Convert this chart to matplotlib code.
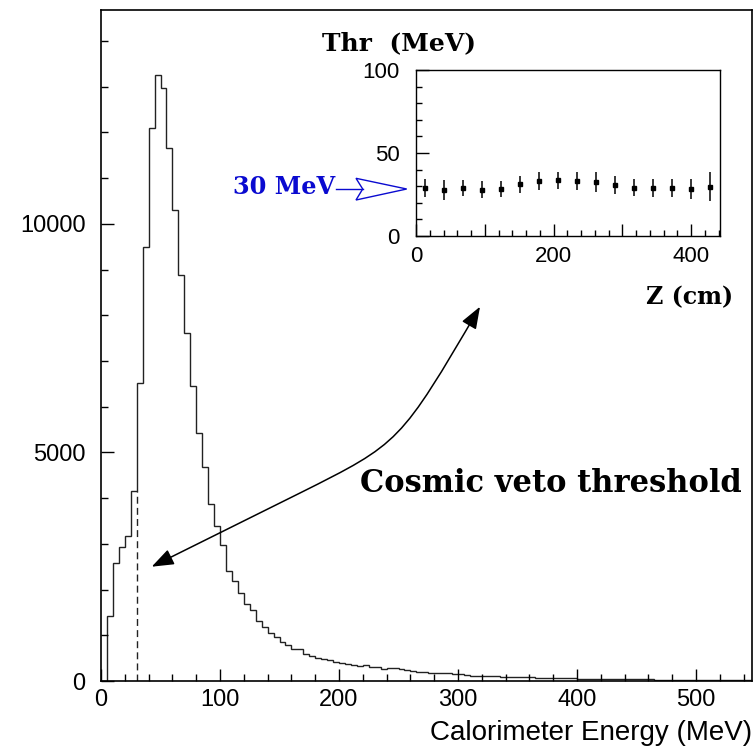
import numpy as np
import matplotlib
matplotlib.use("Agg")
import matplotlib.pyplot as plt
from matplotlib.path import Path
from matplotlib.patches import FancyArrowPatch, Polygon
from matplotlib.ticker import MultipleLocator, FuncFormatter
from matplotlib.lines import Line2D

# ---------------- data ----------------
bin_width = 5.0
energy_counts = [
    0, 1420, 2575, 2925, 3170, 4165, 6515, 9490, 12090, 13260,
    12970, 11650, 10310, 8890, 7620, 6455, 5435, 4675, 3875, 3390,
    2975, 2415, 2190, 1935, 1690, 1560, 1320, 1185, 1057, 955,
    860, 790, 690, 690, 590, 547, 497, 481, 460, 416,
    400, 365, 350, 320, 350, 306, 300, 270, 291, 291,
    263, 240, 225, 200, 195, 185, 170, 168, 165, 160,
    146, 128, 120, 110, 108, 105, 100, 95, 92, 90,
    85, 80, 78, 75, 72, 66, 64, 62, 60, 58,
    52, 50, 48, 46, 44, 42, 40, 40, 38, 36,
    35, 34, 33, 32, 30, 30, 28, 27, 26, 25,
    24, 23, 22, 21, 20, 19, 18, 18, 17, 16,
]
threshold_mev = 30.0
threshold_height = 4150

z_cm = [13.8, 41.4, 69.0, 96.6, 124.2, 151.8, 179.4, 207.0,
        234.6, 262.2, 289.8, 317.4, 345.0, 372.6, 400.2, 427.8]
thr_mev = [28.7, 27.7, 28.9, 27.9, 28.3, 31.1, 33.3, 33.5,
           33.1, 32.5, 30.7, 29.1, 28.9, 29.1, 28.3, 29.7]
thr_err = [5.4, 5.8, 5.0, 5.3, 5.1, 5.3, 5.5, 5.3,
           5.6, 5.8, 5.4, 5.2, 5.2, 5.4, 5.8, 8.8]

# ---------------- figure ----------------
W, H = 755, 751
fig = plt.figure(figsize=(W / 100, H / 100), dpi=100)
fig.patch.set_facecolor("white")

def fx(px):
    return px / W

def fy(py):
    return 1 - py / H

tick_font = "Liberation Sans"
serif_bold = dict(family="DejaVu Serif", weight="bold")
blue = "#0a0ad0"

# main axes
ax = fig.add_axes([fx(101), fy(681), fx(752) - fx(101), fy(10) - fy(681)])
edges = np.arange(len(energy_counts) + 1) * bin_width
ax.stairs(energy_counts, edges, color="#222222", lw=1.0, baseline=0)
ax.vlines(threshold_mev, 0, threshold_height, colors="#222222",
          linestyles=(0, (5, 3)), lw=1.0)
ax.set_xlim(0, 547)
ax.set_ylim(0, 14680)
ax.xaxis.set_major_locator(MultipleLocator(100))
ax.xaxis.set_minor_locator(MultipleLocator(20))
ax.yaxis.set_major_locator(MultipleLocator(5000))
ax.yaxis.set_minor_locator(MultipleLocator(1000))
ax.tick_params(which="both", direction="in", top=False, right=False,
               width=1.0, colors="black")
ax.tick_params(which="major", length=9, labelsize=17)
ax.tick_params(which="minor", length=4.8)
ax.tick_params(axis="y", which="major", pad=11)
ax.tick_params(axis="x", which="major", pad=6)
for lab in ax.get_xticklabels() + ax.get_yticklabels():
    lab.set_family(tick_font)
for s in ax.spines.values():
    s.set_linewidth(1.2)
fig.text(fx(752), fy(733), "Calorimeter Energy (MeV)", ha="right",
         va="center", fontsize=20, family=tick_font)

# inset axes
axi = fig.add_axes([fx(416), fy(236), fx(720) - fx(416), fy(70) - fy(236)])
axi.errorbar(z_cm, thr_mev, yerr=thr_err, fmt="s", color="black",
             ms=3.2, elinewidth=1.1, capsize=0)
axi.set_xlim(0, 442)
axi.set_ylim(0, 100)
axi.xaxis.set_major_locator(MultipleLocator(100))
axi.xaxis.set_minor_locator(MultipleLocator(20))
axi.yaxis.set_major_locator(MultipleLocator(50))
axi.yaxis.set_minor_locator(MultipleLocator(10))
axi.xaxis.set_major_formatter(FuncFormatter(
    lambda v, p: f"{int(v)}" if int(round(v)) % 200 == 0 else ""))
axi.tick_params(which="both", direction="in", top=False, right=False,
                width=1.0)
axi.tick_params(which="major", length=9, labelsize=16)
axi.tick_params(which="minor", length=4.5)
axi.tick_params(axis="y", which="major", pad=12)
axi.tick_params(axis="x", which="major", pad=7)
for lab in axi.get_xticklabels() + axi.get_yticklabels():
    lab.set_family(tick_font)
for s in axi.spines.values():
    s.set_linewidth(1.0)

fig.text(fx(322), fy(50.5), "Thr  (MeV)", ha="left", va="baseline",
         fontsize=18, **serif_bold)
fig.text(fx(733), fy(304), "Z (cm)", ha="right", va="baseline",
         fontsize=17, **serif_bold)
fig.text(fx(233), fy(194.3), "30 MeV", ha="left", va="baseline",
         fontsize=17.3, color=blue, **serif_bold)

# blue hollow arrow pointing at 30 MeV
fig.add_artist(Line2D([fx(336), fx(363)], [fy(189), fy(189)],
                      transform=fig.transFigure, color=blue, lw=1.0))
head = Polygon([(fx(356), fy(178.3)), (fx(406.7), fy(189)),
                (fx(356), fy(200)), (fx(362.7), fy(189))],
               closed=True, transform=fig.transFigure, fill=False,
               edgecolor=blue, lw=1.0)
fig.add_artist(head)

# "Cosmic veto threshold"
fig.text(fx(360), fy(491.7), "Cosmic veto threshold", ha="left",
         va="baseline", fontsize=22, **serif_bold)

# curved double-headed arrow
verts = [(fx(151.7), fy(566.7)), (fx(300), fy(493)),
         (fx(400), fy(443)), (fx(400), fy(443)), (fx(480), fy(306.7))]
codes = [Path.MOVETO, Path.LINETO, Path.CURVE4, Path.CURVE4, Path.CURVE4]
arr = FancyArrowPatch(path=Path(verts, codes),
                      arrowstyle="<|-|>,head_length=1.35,head_width=0.5",
                      mutation_scale=10, transform=fig.transFigure,
                      color="black", lw=1.1)
fig.add_artist(arr)

fig.savefig("out.png", dpi=100, facecolor="white")
